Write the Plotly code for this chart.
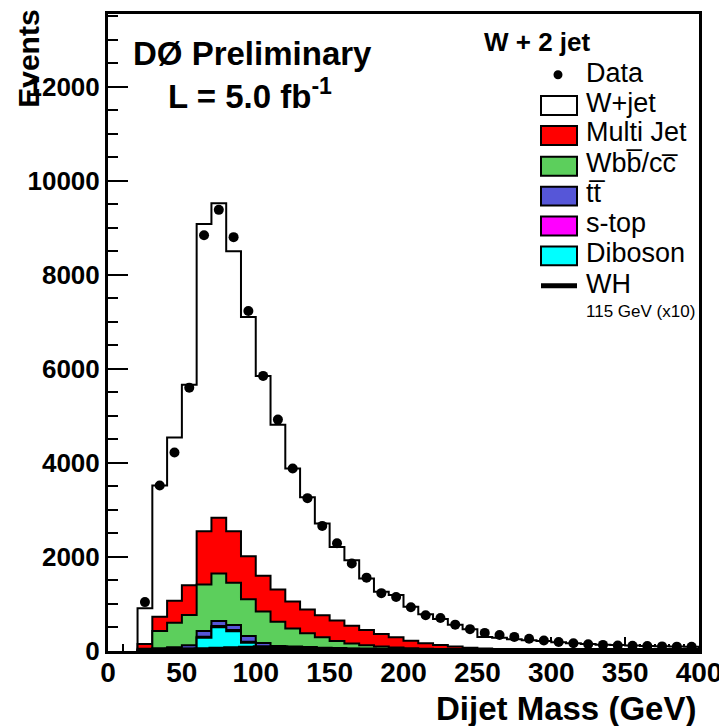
import numpy as np
import plotly.graph_objects as go

# ---------------- data (10 GeV bins, 20-400 GeV) ----------------
bin_low = list(range(20, 400, 10))

data_counts = [1040, 3520, 4220, 5600, 8840, 9380, 8800, 7230, 5850, 4920,
               3880, 3250, 2660, 2290, 1860, 1560, 1230, 1150, 930, 760,
               700, 560, 465, 385, 340, 300, 260, 225, 190, 165,
               145, 130, 118, 110, 104, 98, 93, 88]

diboson = [3, 10, 22, 38, 283, 505, 420, 175, 62, 36, 29, 25, 21, 18, 15, 13, 11, 9, 8, 7,
           6, 6, 5, 4, 3, 3, 3, 3, 2, 2, 2, 1, 1, 1, 1, 1, 0, 0]
stop = [2, 5, 8, 12, 20, 25, 25, 22, 18, 14, 11, 9, 8, 7, 6, 5, 4, 4, 3, 3,
        3, 2, 2, 2, 2, 2, 1, 1, 1, 1, 1, 1, 1, 1, 1, 1, 1, 1]
ttbar = [15, 45, 50, 70, 121, 106, 106, 121, 90, 56, 45, 38, 33, 29, 26, 23, 21, 19, 17, 15,
         13, 12, 11, 10, 9, 7, 7, 6, 6, 5, 4, 4, 4, 3, 3, 2, 3, 3]
wbb = [30, 364, 520, 643, 989, 1010, 898, 782, 670, 514, 395, 303, 228, 161, 113, 79, 59, 43, 32, 25,
       20, 16, 12, 10, 8, 7, 5, 4, 3, 3, 3, 3, 2, 2, 1, 2, 1, 1]
multijet = [100, 303, 467, 636, 1131, 1188, 1095, 914, 760, 690, 570, 505, 470, 435, 376, 325, 265, 215, 160, 115,
            83, 59, 40, 29, 23, 19, 16, 14, 12, 10, 8, 7, 6, 5, 5, 4, 4, 3]
wjet = [760, 2793, 3473, 4261, 6536, 6686, 5956, 5086, 4250, 3500, 2830, 2390, 1950, 1560, 1394, 1095, 900, 900, 720, 615,
        555, 465, 390, 245, 235, 212, 198, 182, 161, 144, 132, 119, 111, 103, 97, 90, 86, 82]
wh_x10 = [0, 2, 5, 9, 15, 24, 35, 48, 58, 60, 52, 40, 28, 19, 12, 8, 5, 3, 2, 1,
          1, 0, 0, 0, 0, 0, 0, 0, 0, 0, 0, 0, 0, 0, 0, 0, 0, 0]

x_tick_vals = [0, 50, 100, 150, 200, 250, 300, 350, 400]
y_tick_vals = [0, 2000, 4000, 6000, 8000, 10000, 12000]

# ---------------- helpers ----------------
BW = 10
edges = np.array(bin_low, dtype=float)
FONT = "Liberation Sans, Arial, Helvetica, sans-serif"


def step_xy(vals):
    vals = list(vals)
    xs = [edges[0]] + list(edges) + [edges[-1] + BW, edges[-1] + BW]
    ys = [0] + vals + [vals[-1], 0]
    return xs, ys


layers = [
    ("Diboson", diboson, "#00ffff"),
    ("s-top", stop, "#ff00ff"),
    ("tt", ttbar, "#5656d8"),
    ("Wbb", wbb, "#5ccf5c"),
    ("Multi Jet", multijet, "#ff0000"),
    ("W+jet", wjet, "#ffffff"),
]
cum = np.zeros(len(bin_low))
cums = []
for name, vals, col in layers:
    cum = cum + np.array(vals, dtype=float)
    cums.append((name, cum.copy(), col))

fig = go.Figure()
for name, c, col in reversed(cums):
    xs, ys = step_xy(c)
    fig.add_trace(go.Scatter(x=xs, y=ys, mode="lines", line=dict(shape="hv", color="black", width=2),
                             fill="tozeroy", fillcolor=col, name=name, showlegend=False, hoverinfo="skip"))

xs, ys = step_xy(wh_x10)
fig.add_trace(go.Scatter(x=xs, y=ys, mode="lines", line=dict(shape="hv", color="black", width=6),
                         name="WH", showlegend=False))

fig.add_trace(go.Scatter(x=edges + BW / 2, y=data_counts, mode="markers",
                         marker=dict(symbol="circle", size=10, color="black"),
                         name="Data", showlegend=False))

# ---------------- layout ----------------
# page body has an 8px margin; figure is sized so the picture lands on the 727x726 window
OFF = 8
W, H = 727 - OFF, 726 - OFF
L, R, T, B = 108 - OFF, 28, 3, 75
PW, PH = W - L - R, H - T - B


def px(x):  # page pixel -> paper
    return (x - OFF - L) / PW


def py(y):
    return (H - B - (y - OFF)) / PH


fig.update_layout(
    width=W, height=H, margin=dict(l=L, r=R, t=T, b=B),
    paper_bgcolor="white", plot_bgcolor="white", showlegend=False,
    font=dict(family=FONT, color="black"),
    xaxis=dict(range=[0, 400], tickvals=x_tick_vals, ticktext=[str(v) for v in x_tick_vals],
               ticks="inside", ticklen=14, tickwidth=2, tickcolor="black",
               minor=dict(dtick=10, ticks="inside", ticklen=7, tickwidth=2, tickcolor="black"),
               showline=True, linewidth=3, linecolor="black", mirror=True, showgrid=False, zeroline=False,
               tickfont=dict(size=28, weight="bold", family=FONT), layer="below traces",
               ticklabelstandoff=-6),
    yaxis=dict(range=[0, 13545], tickvals=y_tick_vals, ticktext=[str(v) for v in y_tick_vals],
               ticks="inside", ticklen=20, tickwidth=2, tickcolor="black",
               minor=dict(dtick=500, ticks="inside", ticklen=10, tickwidth=2, tickcolor="black"),
               showline=True, linewidth=3, linecolor="black", mirror=True, showgrid=False, zeroline=False,
               tickfont=dict(size=26, weight="bold", family=FONT), layer="below traces"),
)

ann = []
ann.append(dict(text="<b>Events</b>", textangle=-90, x=px(29), y=py(56), xref="paper", yref="paper",
                xanchor="center", yanchor="middle", showarrow=False, font=dict(size=30)))
ann.append(dict(text="<b>Dijet Mass (GeV)</b>", x=px(698), y=py(709), xref="paper", yref="paper",
                xanchor="right", yanchor="middle", showarrow=False, font=dict(size=33)))
ann.append(dict(text="<b>D\u00d8 Preliminary</b>", x=px(252), y=py(51), xref="paper", yref="paper",
                xanchor="center", yanchor="middle", showarrow=False, font=dict(size=33)))
ann.append(dict(text="<b>L = 5.0 fb<sup>-1</sup></b>", x=px(250), y=py(91), xref="paper", yref="paper",
                xanchor="center", yanchor="middle", showarrow=False, font=dict(size=33)))
ann.append(dict(text="<b>W + 2 jet</b>", x=px(537), y=py(39), xref="paper", yref="paper",
                xanchor="center", yanchor="middle", showarrow=False, font=dict(size=26)))

legend_rows = [
    ("W+jet", 103, "#ffffff"),
    ("Multi Jet", 133, "#ff0000"),
    ("Wbb\u0305/cc\u0305", 164, "#5ccf5c"),
    ("tt\u0305", 194, "#5656d8"),
    ("s-top", 224, "#ff00ff"),
    ("Diboson", 254, "#00ffff"),
]
shapes = []
BX0, BX1, TX = 541, 577, 584
TEXT_UP = 3
for label, yc, col in legend_rows:
    shapes.append(dict(type="rect", xref="paper", yref="paper", x0=px(BX0), x1=px(BX1),
                       y0=py(yc + 9.5), y1=py(yc - 9.5), fillcolor=col, line=dict(color="black", width=2)))
    ann.append(dict(text=label, x=px(TX), y=py(yc - TEXT_UP), xref="paper", yref="paper", xanchor="left",
                    yanchor="middle", showarrow=False, font=dict(size=27)))
# Data entry
shapes.append(dict(type="circle", xref="paper", yref="paper", x0=px(553.5), x1=px(562.5),
                   y0=py(76.5), y1=py(67.5), fillcolor="black", line=dict(color="black", width=0)))
ann.append(dict(text="Data", x=px(TX), y=py(70), xref="paper", yref="paper", xanchor="left",
                yanchor="middle", showarrow=False, font=dict(size=27)))
# WH entry
shapes.append(dict(type="line", xref="paper", yref="paper", x0=px(BX0), x1=px(BX1),
                   y0=py(284), y1=py(284), line=dict(color="black", width=5)))
ann.append(dict(text="WH", x=px(TX), y=py(282), xref="paper", yref="paper", xanchor="left",
                yanchor="middle", showarrow=False, font=dict(size=27)))
ann.append(dict(text="115 GeV (x10)", x=px(TX), y=py(310), xref="paper", yref="paper", xanchor="left",
                yanchor="middle", showarrow=False, font=dict(size=17)))

fig.update_layout(annotations=ann, shapes=shapes)
fig.write_html("out.html")
